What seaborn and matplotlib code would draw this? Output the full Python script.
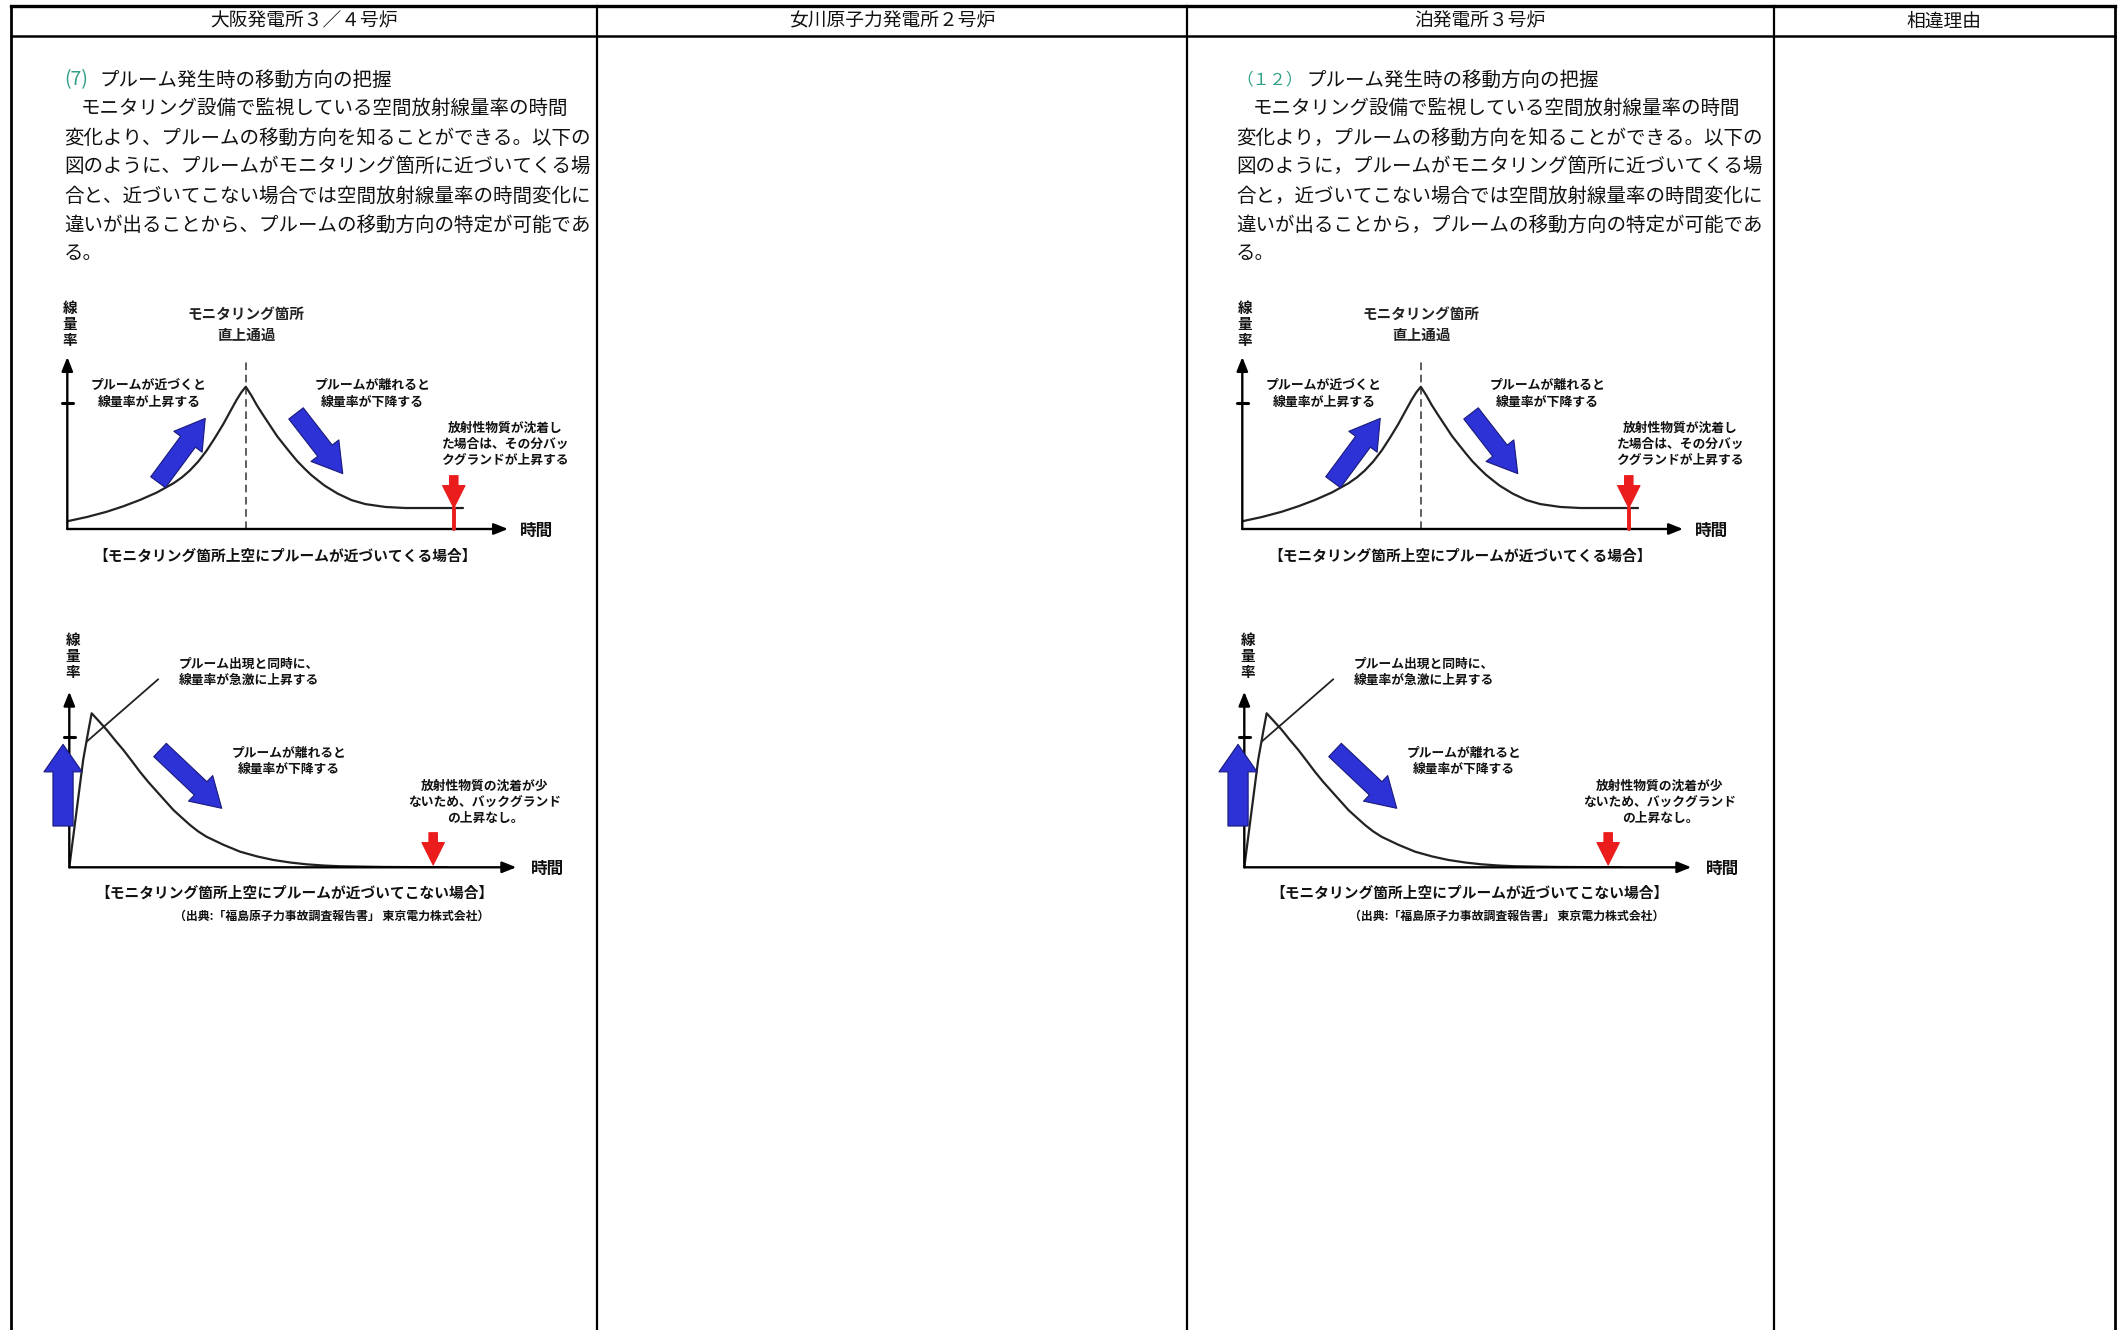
import matplotlib
matplotlib.use("Agg")
import matplotlib.pyplot as plt
from matplotlib.lines import Line2D
import seaborn as sns
import pandas as pd

# ---------------- data ----------------
header_labels = ["大阪発電所３／４号炉", "女川原子力発電所２号炉", "泊発電所３号炉", "相違理由"]
heading_nums = ["(7)", "（１２）"]
heading_text = "プルーム発生時の移動方向の把握"
body_left = [
    "モニタリング設備で監視している空間放射線量率の時間",
    "変化より、プルームの移動方向を知ることができる。以下の",
    "図のように、プルームがモニタリング箇所に近づいてくる場",
    "合と、近づいてこない場合では空間放射線量率の時間変化に",
    "違いが出ることから、プルームの移動方向の特定が可能であ",
    "る。",
]
body_right = [
    "モニタリング設備で監視している空間放射線量率の時間",
    "変化より，プルームの移動方向を知ることができる。以下の",
    "図のように，プルームがモニタリング箇所に近づいてくる場",
    "合と，近づいてこない場合では空間放射線量率の時間変化に",
    "違いが出ることから，プルームの移動方向の特定が可能であ",
    "る。",
]

# schematic curve: plume approaching the monitoring point
approach_time = [0, 0.45, 0.89, 1.27, 1.65, 2.03, 2.41, 2.60, 2.78, 2.97, 3.16,
                 3.35, 3.54, 3.70, 3.84, 3.95, 4.05, 4.18, 4.30, 4.45, 4.61,
                 4.76, 4.92, 5.07, 5.22, 5.38, 5.53, 5.69, 5.84, 6.14, 6.45,
                 6.76, 7.22, 7.68, 8.98]
approach_rate = [0.45, 0.70, 1.00, 1.32, 1.69, 2.12, 2.66, 3.00, 3.40, 3.92, 4.55,
                 5.30, 6.10, 6.85, 7.50, 7.95, 8.27, 7.75, 7.20, 6.60, 5.98,
                 5.40, 4.88, 4.40, 3.94, 3.52, 3.15, 2.82, 2.52, 2.05, 1.68,
                 1.45, 1.28, 1.22, 1.22]
# schematic curve: plume not approaching the monitoring point
distant_time = [0, 0.165, 0.31, 0.43, 0.50, 0.67, 0.84, 1.02, 1.21, 1.40, 1.58,
                1.77, 1.96, 2.15, 2.33, 2.52, 2.70, 2.88, 3.07, 3.45, 3.82,
                4.20, 4.56, 4.95, 5.31, 5.70, 6.06, 7.00, 8.45]
distant_rate = [0, 3.26, 6.11, 7.82, 8.77, 8.30, 7.82, 7.25, 6.68, 6.05, 5.44,
                4.85, 4.31, 3.77, 3.26, 2.82, 2.41, 2.05, 1.74, 1.28, 0.89,
                0.62, 0.42, 0.27, 0.17, 0.10, 0.06, 0.02, 0.0]

label_rate = "線\n量\n率"
label_time = "時間"
top_peak_label = "モニタリング箇所\n直上通過"
top_rise = "プルームが近づくと\n線量率が上昇する"
top_fall = "プルームが離れると\n線量率が下降する"
top_bg = "放射性物質が沈着し\nた場合は、その分バッ\nクグランドが上昇する"
top_caption = "【モニタリング箇所上空にプルームが近づいてくる場合】"
bot_rise = "プルーム出現と同時に、\n線量率が急激に上昇する"
bot_fall = "プルームが離れると\n線量率が下降する"
bot_bg = "放射性物質の沈着が少\nないため、バックグランド\nの上昇なし。"
bot_caption = "【モニタリング箇所上空にプルームが近づいてこない場合】"
source_note = "（出典:「福島原子力事故調査報告書」 東京電力株式会社）"

# ---------------- style ----------------
sns.set_theme(style="white")
plt.rcParams['font.family'] = ['Noto Sans CJK JP', 'DejaVu Sans']

W, H = 2123, 1330
fig = plt.figure(figsize=(W / 100, H / 100), dpi=100)
fig.patch.set_facecolor("white")

BLUE = "#2c32d6"
BLUE_EDGE = "#1a1a7a"
RED = "#ea1c1c"
TEAL = "#2f9f86"
INK = "#111111"


def fx(x):
    return x / W


def fy(y):
    return 1 - y / H


def ftext(x, y, s, **kw):
    return fig.text(fx(x), fy(y), s, **kw)


def fline(x0, y0, x1, y1, lw=2.0):
    fig.add_artist(Line2D([fx(x0), fx(x1)], [fy(y0), fy(y1)],
                          transform=fig.transFigure, color="black", lw=lw,
                          solid_capstyle="projecting"))


# ---------------- table frame ----------------
col_x = [10.5, 597, 1186.5, 1773.5, 2115]
fline(col_x[0], 5.5, col_x[-1], 5.5, lw=2.4)
fline(col_x[0], 36, col_x[-1], 36, lw=1.8)
for i, x in enumerate(col_x):
    fline(x, 5.5, x, H + 5, lw=2.0 if i in (0, 4) else 1.6)
for i, lab in enumerate(header_labels):
    ftext((col_x[i] + col_x[i + 1]) / 2, 21, lab, ha="center", va="center",
          fontsize=13.5, color=INK)


# ---------------- body text ----------------
def draw_text_block(x_left, num, lines, num_size, head_dx):
    ftext(x_left, 80, num, ha="left", va="center", fontsize=num_size, color=TEAL)
    ftext(x_left + head_dx, 80, heading_text, ha="left", va="center", fontsize=14,
          color=INK)
    ys = [108.5, 138, 166.5, 196, 225, 253]
    for k, (ln, y) in enumerate(zip(lines, ys)):
        xx = x_left + (17 if k == 0 else 0)
        ftext(xx, y, ln, ha="left", va="center", fontsize=14, color=INK)


draw_text_block(64, heading_nums[0], body_left, 14, 35)
draw_text_block(1236, heading_nums[1], body_right, 12, 70)


# ---------------- diagrams ----------------
def px_axes(x0, y_top, x1, y_bot):
    ax = fig.add_axes([fx(x0), fy(y_bot), (x1 - x0) / W, (y_bot - y_top) / H])
    ax.set_xlim(0, 10)
    ax.set_ylim(0, 10)
    ax.axis("off")
    return ax


def axis_arrows(ax):
    kw = dict(arrowstyle="-|>,head_length=0.7,head_width=0.28", color="black",
              lw=1.7, shrinkA=0, shrinkB=0)
    ax.annotate("", xy=(10, 0), xytext=(0, 0), arrowprops=kw, annotation_clip=False)
    ax.annotate("", xy=(0, 10), xytext=(0, 0), arrowprops=kw, annotation_clip=False)


def fat_arrow(ax, start, end, color=BLUE, edge=BLUE_EDGE, tail=0.6, head_w=1.15,
              head_l=0.95, scale=22, z=5):
    ax.annotate("", xy=end, xytext=start, annotation_clip=False, zorder=z,
                arrowprops=dict(arrowstyle=f"simple,head_width={head_w},head_length={head_l},tail_width={tail}",
                                fc=color, ec=edge, lw=0.8, mutation_scale=scale,
                                shrinkA=0, shrinkB=0))


bold = dict(fontweight="bold", color=INK)


def draw_panels(dx):
    # --- approaching plume ---
    ax = px_axes(67.3 + dx, 357, 508 + dx, 529)
    df = pd.DataFrame({"time": approach_time, "rate": approach_rate})
    sns.lineplot(data=df, x="time", y="rate", ax=ax, color="#222222", lw=1.6,
                 estimator=None, sort=False, zorder=3)
    ax.set_xlim(0, 10); ax.set_ylim(0, 10); ax.axis("off")
    axis_arrows(ax)
    ax.plot([4.05, 4.05], [0, 9.69], color="#333333", lw=1.1, ls=(0, (5, 3)),
            clip_on=False)
    ax.plot([-0.12, 0.12], [7.3, 7.3], color="black", lw=2.2, clip_on=False)
    ax.plot([8.77, 8.77], [0, 1.22], color=RED, lw=2.8, clip_on=False, zorder=4)
    fat_arrow(ax, (8.77, 3.1), (8.77, 1.22), color=RED, edge=RED, tail=0.32,
              head_w=0.85, head_l=0.85, scale=19)
    fat_arrow(ax, (2.06, 2.72), (3.13, 6.43))
    fat_arrow(ax, (5.19, 6.72), (6.25, 3.22))
    ax.text(0.06, 11.9, label_rate, ha="center", va="center", fontsize=10.5,
            linespacing=1.0, **bold)
    ax.text(4.06, 11.9, top_peak_label, ha="center", va="center", fontsize=10.5,
            linespacing=1.35, fontweight="bold", color="#222222")
    ax.text(1.85, 7.87, top_rise, ha="center", va="center", fontsize=9.3,
            linespacing=1.3, **bold)
    ax.text(6.92, 7.87, top_fall, ha="center", va="center", fontsize=9.3,
            linespacing=1.3, **bold)
    ax.text(9.94, 4.92, top_bg, ha="center", va="center", fontsize=9.2,
            linespacing=1.3, **bold)
    ax.text(10.65, -0.1, label_time, ha="center", va="center", fontsize=12, **bold)
    ax.text(4.94, -1.54, top_caption, ha="center", va="center", fontsize=10.6, **bold)

    # --- non-approaching plume ---
    ax2 = px_axes(69.3 + dx, 691.7, 516.3 + dx, 867.3)
    df2 = pd.DataFrame({"time": distant_time, "rate": distant_rate})
    sns.lineplot(data=df2, x="time", y="rate", ax=ax2, color="#222222", lw=1.6,
                 estimator=None, sort=False, zorder=3)
    ax2.set_xlim(0, 10); ax2.set_ylim(0, 10); ax2.axis("off")
    axis_arrows(ax2)
    ax2.plot([-0.12, 0.12], [7.4, 7.4], color="black", lw=2.2, clip_on=False)
    ax2.plot([0.39, 1.99], [7.16, 10.71], color="#222222", lw=1.3, clip_on=False)
    fat_arrow(ax2, (-0.14, 2.35), (-0.14, 7.0), tail=0.66, head_w=1.25, head_l=0.9)
    fat_arrow(ax2, (2.03, 6.68), (3.41, 3.36))
    fat_arrow(ax2, (8.14, 1.97), (8.14, 0.13), color=RED, edge=RED, tail=0.32,
              head_w=0.85, head_l=0.85, scale=19)
    ax2.text(0.08, 12.05, label_rate, ha="center", va="center", fontsize=10.5,
             linespacing=1.0, **bold)
    ax2.text(4.02, 11.12, bot_rise, ha="center", va="center", fontsize=9.2,
             linespacing=1.3, **bold)
    ax2.text(4.92, 6.03, bot_fall, ha="center", va="center", fontsize=9.2,
             linespacing=1.3, **bold)
    ax2.text(9.30, 3.68, bot_bg, ha="center", va="center", fontsize=9.2,
             linespacing=1.3, **bold)
    ax2.text(10.69, -0.11, label_time, ha="center", va="center", fontsize=12, **bold)
    ax2.text(5.04, -1.44, bot_caption, ha="center", va="center", fontsize=10.6, **bold)
    ax2.text(5.88, -2.77, source_note, ha="center", va="center", fontsize=8.6, **bold)


draw_panels(0)
draw_panels(1175)

fig.savefig("out.png", dpi=100, facecolor="white")
